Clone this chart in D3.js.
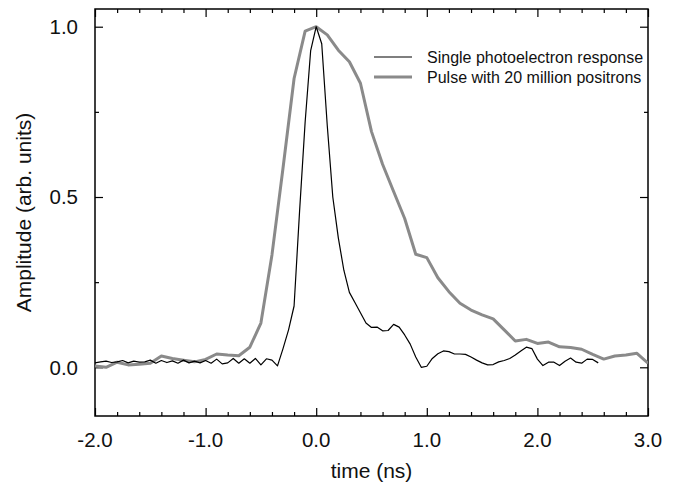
<!DOCTYPE html>
<html><head><meta charset="utf-8">
<script src="https://cdn.jsdelivr.net/npm/d3@7"></script>
<style>
html,body{margin:0;padding:0;background:#fff;}
svg{display:block;font-family:"Liberation Sans",Arial,Helvetica,sans-serif;}
</style></head>
<body><svg id="chart" width="678" height="485"></svg>
<script>
// ---- data ----
const spTime = [-2.00,-1.95,-1.90,-1.85,-1.80,-1.75,-1.70,-1.65,-1.60,-1.55,-1.50,-1.45,-1.40,-1.35,-1.30,-1.25,-1.20,-1.15,-1.10,-1.05,
 -1.00,-0.95,-0.90,-0.85,-0.80,-0.75,-0.70,-0.65,-0.60,-0.55,-0.50,-0.45,-0.40,-0.35,-0.30,-0.25,-0.20,-0.15,-0.10,-0.05,
 0.00,0.05,0.10,0.15,0.20,0.25,0.30,0.35,0.40,0.45,0.50,0.55,0.60,0.65,0.70,0.75,0.80,0.85,0.90,0.95,
 1.00,1.05,1.10,1.15,1.20,1.25,1.30,1.35,1.40,1.45,1.50,1.55,1.60,1.65,1.70,1.75,1.80,1.85,1.90,1.95,
 2.00,2.05,2.10,2.15,2.20,2.25,2.30,2.35,2.40,2.45,2.50,2.55];
const spAmp = [0.013,0.016,0.018,0.014,0.016,0.020,0.013,0.018,0.015,0.016,0.021,0.012,0.020,0.014,0.019,0.012,0.021,0.013,0.018,0.013,
 0.020,0.012,0.024,0.010,0.013,0.026,0.012,0.025,0.012,0.026,0.007,0.025,0.021,0.004,0.055,0.110,0.180,0.460,0.720,0.930,
 1.000,0.950,0.710,0.500,0.380,0.285,0.220,0.190,0.160,0.130,0.117,0.118,0.107,0.108,0.126,0.118,0.095,0.068,0.030,0.000,
 0.003,0.026,0.040,0.048,0.046,0.039,0.039,0.038,0.030,0.021,0.013,0.007,0.008,0.016,0.020,0.026,0.036,0.048,0.059,0.055,
 0.024,0.005,0.015,0.015,0.005,0.018,0.027,0.015,0.012,0.024,0.023,0.013];

const pulseTime = [-2.0,-1.9,-1.8,-1.7,-1.6,-1.5,-1.4,-1.3,-1.2,-1.1,-1.0,-0.9,-0.8,-0.7,-0.6,-0.5,-0.4,-0.3,-0.2,-0.1,
 0.0,0.1,0.2,0.3,0.4,0.5,0.6,0.7,0.8,0.9,1.0,1.1,1.2,1.3,1.4,1.5,1.6,1.7,1.8,1.9,
 2.0,2.1,2.2,2.3,2.4,2.5,2.6,2.7,2.8,2.9,3.0];
const pulseAmp = [0.004,0.000,0.015,0.007,0.009,0.012,0.033,0.026,0.021,0.016,0.023,0.039,0.036,0.034,0.059,0.130,0.330,0.585,0.848,0.987,
 1.000,0.976,0.931,0.897,0.834,0.692,0.596,0.516,0.437,0.332,0.322,0.263,0.222,0.188,0.168,0.154,0.142,0.110,0.077,0.082,
 0.070,0.074,0.060,0.058,0.053,0.038,0.024,0.033,0.036,0.041,0.012];

const xTicks = [-2.0,-1.0,0.0,1.0,2.0,3.0];
const yTicks = [0.0,0.5,1.0];
const seriesNames = ["Single photoelectron response","Pulse with 20 million positrons"];
const xLabel = "time (ns)";
const yLabel = "Amplitude (arb. units)";

// ---- layout ----
const L = 95, R = 648, T = 9, B = 416;
const svg = d3.select("#chart");
const x = d3.scaleLinear().domain([-2, 3]).range([L, R]);
const y = d3.scaleLinear().domain([-0.143, 1.052]).range([B, T]);

const xMinor = d3.range(-2, 3.0001, 0.2).map(v => +v.toFixed(2));
const yMinor = [0, 0.25, 0.5, 0.75, 1.0];

// frame
svg.append("rect").attr("x", L).attr("y", T).attr("width", R - L).attr("height", B - T)
  .attr("fill", "none").attr("stroke", "#000").attr("stroke-width", 1.5);

// ticks (inward) via d3 axes
function isMajor(v, list){ return list.some(m => Math.abs(m - v) < 1e-6); }
const gB = svg.append("g").attr("transform", `translate(0,${B})`).call(d3.axisBottom(x).tickValues(xMinor).tickFormat("").tickSizeOuter(0));
const gT = svg.append("g").attr("transform", `translate(0,${T})`).call(d3.axisTop(x).tickValues(xMinor).tickFormat("").tickSizeOuter(0));
const gL = svg.append("g").attr("transform", `translate(${L},0)`).call(d3.axisLeft(y).tickValues(yMinor).tickFormat("").tickSizeOuter(0));
const gR = svg.append("g").attr("transform", `translate(${R},0)`).call(d3.axisRight(y).tickValues(yMinor).tickFormat("").tickSizeOuter(0));
[gB, gT, gL, gR].forEach(g => { g.select(".domain").remove(); g.selectAll("line").attr("stroke", "#000").attr("stroke-width", 1.2); });
gB.selectAll(".tick line").attr("y2", d => isMajor(d, xTicks) ? -8 : -4);
gT.selectAll(".tick line").attr("y2", d => isMajor(d, xTicks) ? 8 : 4);
gL.selectAll(".tick line").attr("x2", d => isMajor(d, yTicks) ? 8 : 4);
gR.selectAll(".tick line").attr("x2", d => isMajor(d, yTicks) ? -8 : -4);

// tick labels
svg.append("g").selectAll("text").data(xTicks).join("text")
  .attr("x", d => x(d)).attr("y", 447).attr("text-anchor", "middle")
  .attr("font-size", 20.5).attr("fill", "#111").text(d => d.toFixed(1));
svg.append("g").selectAll("text").data(yTicks).join("text")
  .attr("x", 78).attr("y", d => y(d) + 7.3).attr("text-anchor", "end")
  .attr("font-size", 20.5).attr("fill", "#111").text(d => d.toFixed(1));

// axis labels
svg.append("text").attr("x", (L + R) / 2).attr("y", 478).attr("text-anchor", "middle")
  .attr("font-size", 21).attr("fill", "#111").text(xLabel);
svg.append("text").attr("transform", `translate(31,${(T + B) / 2}) rotate(-90)`)
  .attr("text-anchor", "middle").attr("font-size", 21).attr("fill", "#111").text(yLabel);

// lines
svg.append("clipPath").attr("id", "clip").append("rect")
  .attr("x", L).attr("y", T).attr("width", R - L).attr("height", B - T);
const line = d3.line().x(d => x(d[0])).y(d => y(d[1]));
const pulseData = pulseTime.map((t, i) => [t, pulseAmp[i]]);
const spData = spTime.map((t, i) => [t, spAmp[i]]);
svg.append("path").datum(pulseData).attr("d", line).attr("fill", "none")
  .attr("stroke", "#8a8a8a").attr("stroke-width", 3).attr("stroke-linejoin", "round")
  .attr("clip-path", "url(#clip)");
svg.append("path").datum(spData).attr("d", line).attr("fill", "none")
  .attr("stroke", "#000").attr("stroke-width", 1.2).attr("stroke-linejoin", "round");

// legend
const leg = svg.append("g");
const legStyles = [{c: "#000", w: 1.2}, {c: "#8a8a8a", w: 3}];
seriesNames.forEach((name, i) => {
  const yy = 57 + i * 20;
  leg.append("line").attr("x1", 374).attr("x2", 412).attr("y1", yy).attr("y2", yy)
    .attr("stroke", legStyles[i].c).attr("stroke-width", legStyles[i].w);
  leg.append("text").attr("x", 427).attr("y", yy + 5.5).attr("font-size", 16)
    .attr("fill", "#111").text(name);
});
</script></body></html>
